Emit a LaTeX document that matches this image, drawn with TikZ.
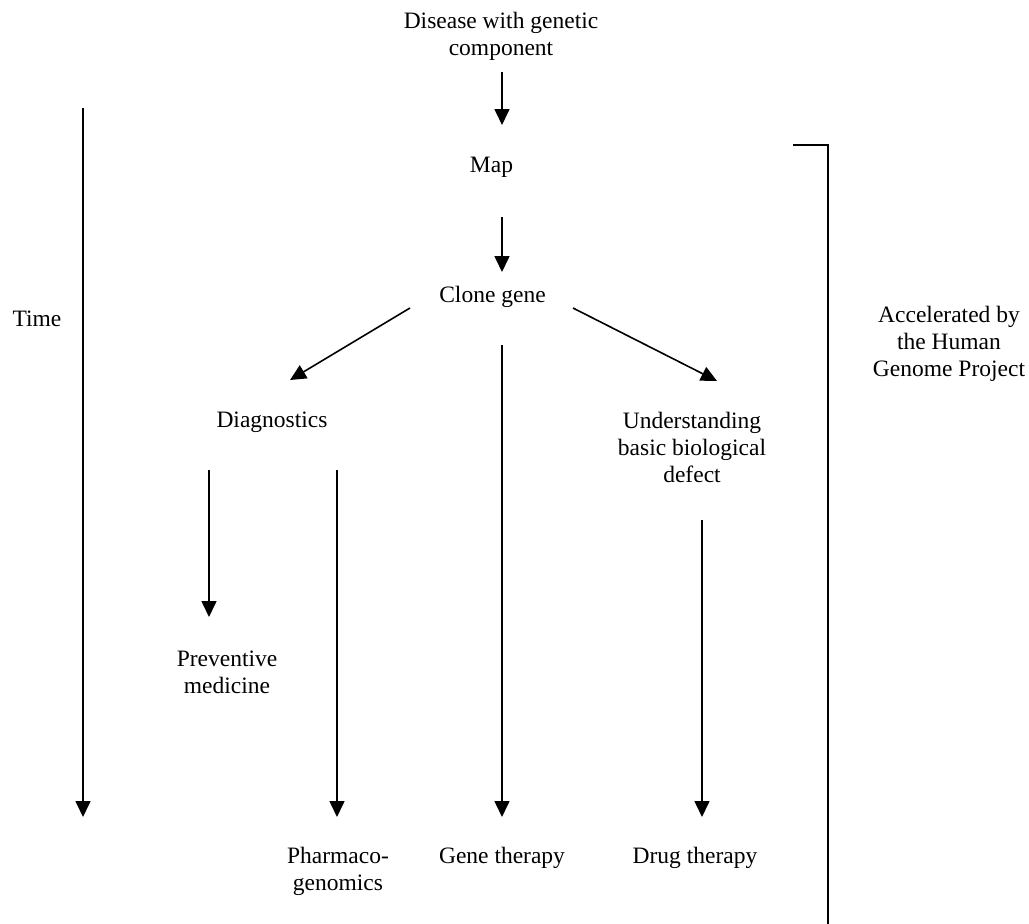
\documentclass[tikz,border=0pt]{standalone}
\usepackage{fontspec}
\setmainfont{Liberation Serif}
\usetikzlibrary{arrows.meta}
\tikzset{
    TX/.style ={align=center, inner sep=0pt, font=\fontsize{23.5}{27}\selectfont},
    AR/.style ={-{Triangle[width=15pt,length=16pt]}, line width=1.6pt},
    BR/.style ={line width=1.6pt}}

\begin{document}
\begin{tikzpicture}[x=1pt,y=-1pt]
    \useasboundingbox (0,0) rectangle (1029,924);
    % text nodes
    \node[TX] (dis) at (501,36) {Disease with genetic\\component};
    \node[TX] (map) at (491.5,167.8) {Map};
    \node[TX] (clone) at (492.5,296.5) {Clone gene};
    \node[TX] (diag) at (272,422.6) {Diagnostics};
    \node[TX] (und) at (692,447) {Understanding\\basic biological\\defect};
    \node[TX] (prev) at (227,672.8) {Preventive\\medicine};
    \node[TX] (pharm) at (338,871) {Pharmaco-\\genomics};
    \node[TX] (gene) at (502,857.5) {Gene therapy};
    \node[TX] (drug) at (695,857.5) {Drug therapy};
    \node[TX] (time) at (37,319.2) {Time};
    \node[TX] (acc) at (949,343.5) {Accelerated by\\the Human\\Genome Project};
    % free ends
    \coordinate (t1) at (83,108);
    \coordinate (t2) at (83,817);
    \coordinate (b1) at (793,145);
    \coordinate (b2) at (828,924);
    % arrows
    \draw[AR] ([shift={(1,36)}]dis.center) -- ([shift={(10.5,-42.8)}]map.center);
    \draw[AR] ([shift={(10.5,49.2)}]map.center) -- ([shift={(9.5,-24.5)}]clone.center);
    \draw[AR] ([shift={(-82.5,11.5)}]clone.center) -- ([shift={(18,-42.6)}]diag.center);
    \draw[AR] ([shift={(80.5,11.5)}]clone.center) -- ([shift={(25,-66)}]und.center);
    \draw[AR] ([shift={(9.5,48.5)}]clone.center) -- ([shift={(0,-40.5)}]gene.center);
    \draw[AR] ([shift={(-63,47.4)}]diag.center) -- ([shift={(-18,-55.8)}]prev.center);
    \draw[AR] ([shift={(65,47.4)}]diag.center) -- ([shift={(-1,-54)}]pharm.center);
    \draw[AR] ([shift={(10,73)}]und.center) -- ([shift={(7,-40.5)}]drug.center);
    \draw[AR] (t1) -- (t2);
    % bracket
    \draw[BR] (b1) -| (b2);
\end{tikzpicture}
\end{document}
